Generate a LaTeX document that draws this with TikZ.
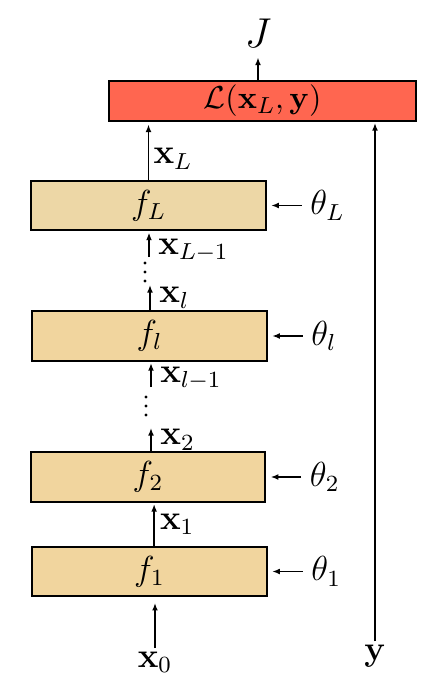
\documentclass[tikz,border=0pt]{standalone}
\usepackage{amsmath,amssymb,bm}
\usepackage{tikz}
\usetikzlibrary{arrows.meta}
\usetikzlibrary{positioning,shapes}
\usetikzlibrary{calc}

\definecolor{losscol}{RGB}{255,102,80}
\definecolor{layercol}{RGB}{241,213,158}
\definecolor{toplayercol}{RGB}{237,215,166}

\tikzset{
  layer/.style={draw, line width=0.7pt, fill=layercol, minimum width=81pt, minimum height=17pt, inner sep=0pt, font=\large},
  lossbox/.style={draw, line width=0.7pt, fill=losscol, minimum width=106pt, minimum height=13.5pt, inner sep=0pt, font=\fontsize{11}{13}\selectfont},
  flow/.style={line width=0.5pt, -{Latex[length=2.6pt,width=2pt]}},
  lbl/.style={right, inner sep=3pt, font=\large},
  param/.style={inner sep=2.8pt, font=\large},
}

\begin{document}
\begin{tikzpicture}[x=0.345pt,y=-0.345pt, node distance=12pt, every node/.append style={font=\large}]
            \useasboundingbox (0,0) rectangle (425,698);
            \node[lossbox] (Loss) at (262.5,101) {$\mathcal{L}(\mathbf{x}_L,\mathbf{y})$};
            \node[layer, fill=toplayercol] (FL) at (148.5,205.5) {$f_L$};
            \node[layer] (Fl) at (149.5,336) {$f_l$};
            \node[layer] (F2) at (148,477) {$f_2$};
            \node[layer] (F1) at (149.5,571.5) {$f_1$};
            \node[font=\Large] (J) at (258,33) {$J$};
            \node[inner sep=1pt] (X0) at (155,662) {$\mathbf{x}_0$};
            \node[inner sep=1pt] (Y) at (375,656) {$\mathbf{y}$};
            \node[param, right=of FL] (ThL) {$\theta_L$};
            \node[param, right=of Fl] (Thl) {$\theta_l$};
            \node[param, right=of F2] (Th2) {$\theta_2$};
            \node[param, right=of F1] (Th1) {$\theta_1$};
            \coordinate (AL) at (149,257);
            \coordinate (Al) at (150,285);
            \coordinate (Alm) at (151,387);
            \coordinate (A2) at (151,428);
            % vertical dots between the layers
            \foreach \d in {263,272,281} \fill (145,\d) circle (0.55pt);
            \foreach \d in {397,406,415} \fill (146,\d) circle (0.55pt);
    	    \path[flow] (J |- Loss.north) edge (J);
    	    \path[flow, shorten >=1pt] (FL) edge node[lbl, inner sep=1.5pt, pos=0.36] {$\mathbf{x}_L$} (FL |- Loss.south);
    	    \path[flow, shorten >=0.5pt] (AL) edge node[lbl, pos=0.25] {$\mathbf{x}_{L-1}$} (AL |- FL.south);
    	    \path[flow] (Fl.north -| Al) edge node[lbl] {$\mathbf{x}_l$} (Al);
    	    \path[flow, shorten >=0.5pt] (Alm) edge node[lbl, pos=0.33] {$\mathbf{x}_{l-1}$} (Alm |- Fl.south);
    	    \path[flow] (F2.north -| A2) edge node[lbl] {$\mathbf{x}_2$} (A2);
    	    \path[flow, shorten >=0.5pt] ([xshift=1.6pt]F1.north) edge node[lbl, inner sep=1.8pt] {$\mathbf{x}_1$} ([xshift=1.6pt]F1.north |- F2.south);
    	    \path[flow, shorten >=2pt] (X0) edge (X0 |- F1.south);
    	    \path[flow, shorten >=0.5pt] (Y) edge (Y |- Loss.south);
    	    \path[flow, shorten >=1.5pt] (ThL) edge (FL);
    	    \path[flow, shorten >=1.5pt] (Thl) edge (Fl);
    	    \path[flow, shorten >=1.5pt] (Th2) edge (F2);
    	    \path[flow, shorten >=1.5pt] (Th1) edge (F1);
	    \end{tikzpicture}
\end{document}
